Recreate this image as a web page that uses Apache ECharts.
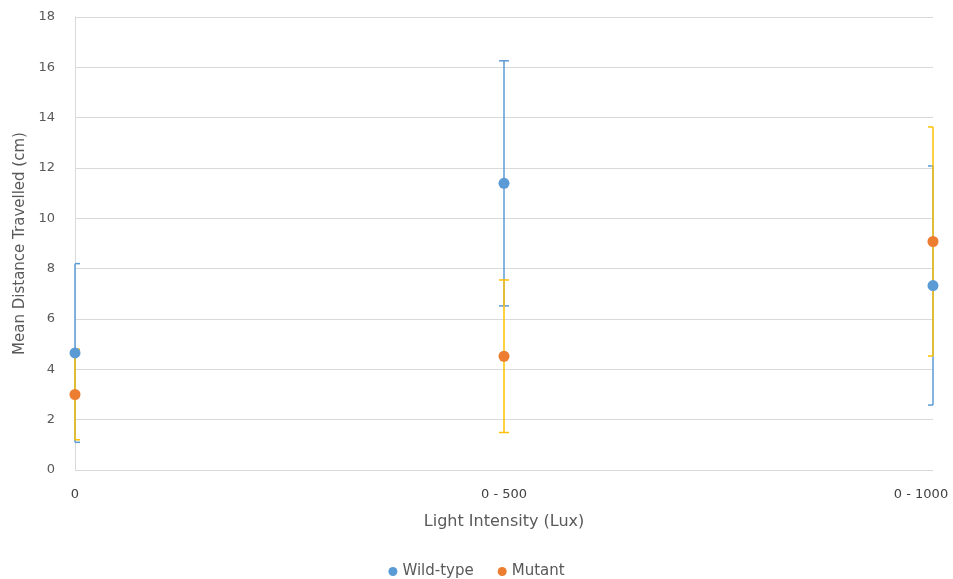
<!DOCTYPE html>
<html>
<head>
<meta charset="utf-8">
<script src="https://cdn.jsdelivr.net/npm/echarts@6/dist/echarts.min.js"></script>
<style>html,body{margin:0;padding:0;background:#fff}#c{width:953px;height:579px}</style>
</head>
<body>
<div id="c"></div>
<script>
const categories = ['0', '0 - 500', '0 - 1000'];
const wildMean = [4.65, 11.39, 7.33];
const wildErr = [3.55, 4.87, 4.75];
const mutantMean = [3.0, 4.52, 9.08];
const mutantErr = [1.8, 3.03, 4.55];
const yTicks = [0, 2, 4, 6, 8, 10, 12, 14, 16, 18];

const FONT = '"DejaVu Sans", "Open Sans", sans-serif';
const chart = echarts.init(document.getElementById('c'));

function errData(means, errs) {
  return means.map((m, i) => [i, m - errs[i], m + errs[i]]);
}
function errRender(color) {
  return function (params, api) {
    const idx = api.value(0);
    const lo = api.coord([idx, api.value(1)]);
    const hi = api.coord([idx, api.value(2)]);
    const cs = params.coordSys;
    const hw = 5;
    const x0 = Math.max(cs.x, lo[0] - hw), x1 = Math.min(cs.x + cs.width, lo[0] + hw);
    const st = { stroke: color, lineWidth: 1.5 };
    return {
      type: 'group',
      children: [
        { type: 'line', shape: { x1: lo[0], y1: lo[1], x2: hi[0], y2: hi[1] }, style: st },
        { type: 'line', shape: { x1: x0, y1: hi[1], x2: x1, y2: hi[1] }, style: st },
        { type: 'line', shape: { x1: x0, y1: lo[1], x2: x1, y2: lo[1] }, style: st }
      ]
    };
  };
}

chart.setOption({
  animation: false,
  textStyle: { fontFamily: FONT },
  grid: { left: 75, right: 20, top: 17, bottom: 109 },
  legend: {
    top: 559, left: 'center',
    icon: 'circle', itemWidth: 9, itemHeight: 9, itemGap: 24,
    textStyle: { color: '#595959', fontSize: 15, fontFamily: FONT },
    data: ['Wild-type', 'Mutant']
  },
  xAxis: {
    type: 'category', data: categories, boundaryGap: false,
    name: 'Light Intensity (Lux)', nameLocation: 'middle', nameGap: 44,
    nameTextStyle: { color: '#595959', fontSize: 16, fontFamily: FONT },
    axisLine: { show: false }, axisTick: { show: false },
    axisLabel: {
      color: '#404040', fontSize: 13, margin: 18, fontFamily: FONT,
      formatter: (v, i) => i === categories.length - 1 ? '{l|' + v + '}' : v,
      rich: { l: { padding: [0, 24, 0, 0], color: '#404040', fontSize: 13, fontFamily: FONT } }
    },
    splitLine: { show: false }
  },
  yAxis: {
    type: 'value', min: yTicks[0], max: yTicks[yTicks.length - 1], interval: 2,
    name: 'Mean Distance Travelled (cm)', nameLocation: 'middle', nameGap: 47, nameRotate: 90,
    nameTextStyle: { color: '#595959', fontSize: 15, fontFamily: FONT },
    axisLine: { show: true, lineStyle: { color: '#d9d9d9' } }, axisTick: { show: false },
    axisLabel: { color: '#595959', fontSize: 13, margin: 20, fontFamily: FONT },
    splitLine: { lineStyle: { color: '#d9d9d9', width: 1 } }
  },
  series: [
    { type: 'custom', name: 'wErr', data: errData(wildMean, wildErr), renderItem: errRender('#5B9BD5'),
      encode: { x: 0, y: [1, 2] }, z: 2, silent: true },
    { type: 'custom', name: 'mErr', data: errData(mutantMean, mutantErr), renderItem: errRender('#FFC000'),
      encode: { x: 0, y: [1, 2] }, z: 3, silent: true },
    { type: 'scatter', name: 'Wild-type', data: wildMean, symbolSize: 11,
      itemStyle: { color: '#5B9BD5', opacity: 1 }, z: 4 },
    { type: 'scatter', name: 'Mutant', data: mutantMean, symbolSize: 11,
      itemStyle: { color: '#ED7D31', opacity: 1 }, z: 5 }
  ]
});
</script>
</body>
</html>
